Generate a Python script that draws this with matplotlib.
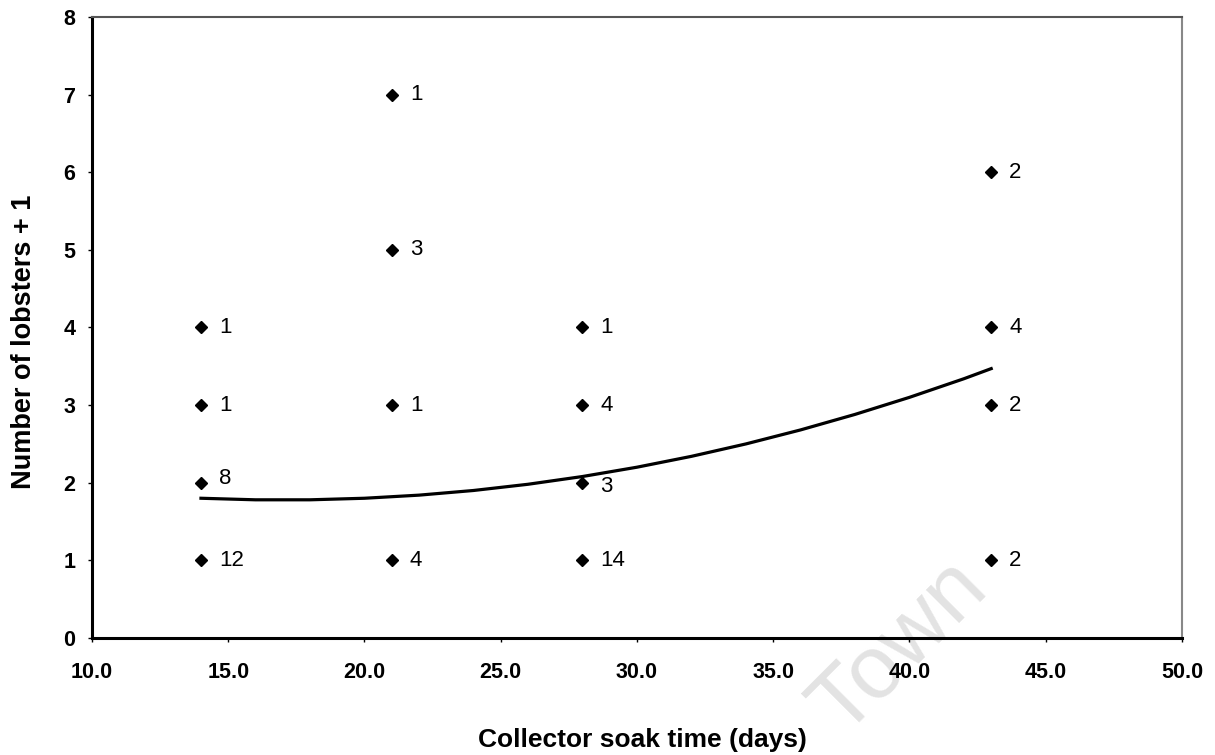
import matplotlib
matplotlib.use('Agg')
from matplotlib import pyplot as plt

plt.rcParams['font.family'] = ['Liberation Sans', 'DejaVu Sans']

# observed points: soak time, lobsters + 1, number of collectors
soak = [14, 14, 14, 14, 21, 21, 21, 21, 28, 28, 28, 28, 43, 43, 43, 43]
lobsters = [4, 3, 2, 1, 7, 5, 3, 1, 4, 3, 2, 1, 6, 4, 3, 1]
counts = ['1', '1', '8', '12', '1', '3', '1', '4', '1', '4', '3', '14', '2', '4', '2', '2']

# fitted trend line
trend_x = [14, 16, 18, 20, 22, 24, 26, 28, 30, 32, 34, 36, 38, 40, 42, 43]
trend_y = [1.80, 1.78, 1.78, 1.80, 1.84, 1.90, 1.98, 2.08, 2.20, 2.34, 2.50,
           2.68, 2.88, 3.10, 3.34, 3.47]

xticks = [10, 15, 20, 25, 30, 35, 40, 45, 50]
yticks = [0, 1, 2, 3, 4, 5, 6, 7, 8]

fig = plt.figure(figsize=(12.15, 7.55), dpi=100)
ax = fig.add_axes([0.0757, 0.155, 0.8971, 0.8225])
ax.set_facecolor('none')

ax.plot(trend_x, trend_y, color='black', lw=2.3, zorder=2)
ax.plot(soak, lobsters, linestyle='none', marker='D', ms=6.5,
        color='black', zorder=3)

for x, y, c in zip(soak, lobsters, counts):
    dy = 0
    if c == '8' and x == 14:
        dy = 3
    elif x == 28 and y == 2:
        dy = -3
    ax.annotate(c, (x, y), xytext=(13, dy), textcoords='offset points',
                ha='left', va='center', fontsize=16)

ax.set_xlim(10, 50)
ax.set_ylim(0, 8)
ax.set_xticks(xticks)
ax.set_xticklabels(['%.1f' % t for t in xticks])
ax.set_yticks(yticks)
ax.tick_params(axis='x', length=3, width=1, pad=14, labelsize=15.5)
ax.tick_params(axis='y', length=3, width=1, pad=9, labelsize=15.5)
for lab in ax.get_xticklabels() + ax.get_yticklabels():
    lab.set_fontweight('bold')

ax.spines['left'].set_linewidth(2.2)
ax.spines['bottom'].set_linewidth(2.2)
ax.spines['top'].set_linewidth(1.5)
ax.spines['top'].set_color('#555555')
ax.spines['right'].set_linewidth(1.5)
ax.spines['right'].set_color('#888888')

ax.set_xlabel('Collector soak time (days)', fontsize=19, fontweight='bold')
ax.set_ylabel('Number of lobsters + 1', fontsize=19.5, fontweight='bold')
ax.xaxis.set_label_coords(0.505, -0.145)
ax.yaxis.set_label_coords(-0.05, 0.477)

# faint watermark, behind everything
fig.text(0.741, 0.142, 'Town', rotation=45, fontsize=64, color='#e3e3e3',
         ha='center', va='center', zorder=-1)

fig.savefig('out.png', dpi=100)
